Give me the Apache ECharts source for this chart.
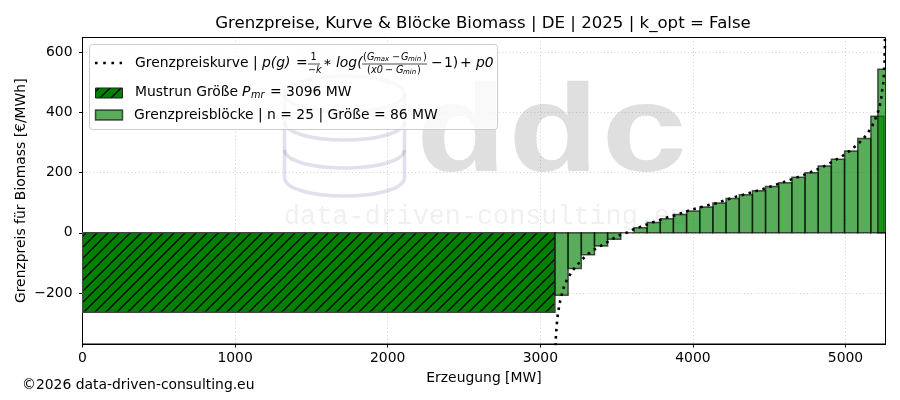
<!DOCTYPE html>
<html><head><meta charset="utf-8">
<style>html,body{margin:0;padding:0;background:#fff}#c{width:900px;height:400px}</style>
<script src="https://cdn.jsdelivr.net/npm/echarts@6/dist/echarts.min.js"></script>
</head><body><div id="c"></div>
<script>
const titleText = 'Grenzpreise, Kurve & Blöcke Biomass | DE | 2025 | k_opt = False';
const xName = 'Erzeugung [MW]';
const yName = 'Grenzpreis für Biomass [€/MWh]';
const xTicks = [0,1000,2000,3000,4000,5000];
const yTicks = [-200,0,200,400,600];
const mustrunSize = 3096;
const mustrunPrice = -264;
const blockWidth = 86.25;
const blockStarts = [3096,3182,3269,3355,3441,3527,3614,3700,3786,3872,3959,4045,4131,4217,4304,4390,4476,4562,4649,4735,4821,4907,4994,5080,5166,5212];
const blockValues = [-208,-119,-73,-44,-21,0,17,34,47,61,73,86,99,114,127,140,154,167,185,200,222,245,272,314,388,544];
const curveX = [3098,3101,3103,3107,3111,3118,3125,3136,3149,3164,3188,3212,3243,3273,3313,3350,3393,3433,3477,3520,3564,3608,3651,3700,3743,3787,3835,3881,3927,3973,4019,4065,4113,4159,4206,4252,4298,4344,4392,4436,4482,4528,4573,4619,4663,4709,4755,4799,4845,4886,4930,4971,5011,5050,5085,5120,5148,5175,5194,5212,5225,5234,5240,5247,5251,5253,5256,5256,5258,5258,5259];
const curveY = [-400,-362,-336,-312,-286,-262,-238,-214,-189,-167,-145,-125,-106,-89,-70,-57,-44,-33,-19,-8,0,11,19,28,36,43,52,58,66,74,81,87,94,99,108,115,123,128,136,142,149,157,165,173,181,189,199,207,218,228,241,253,266,282,297,315,334,356,377,401,424,448,473,497,522,546,571,595,619,645,670];

const F = '"DejaVu Sans"';
const T = 11;
const tile = document.createElement('canvas'); tile.width = T; tile.height = T;
(function(){const g = tile.getContext('2d'); g.fillStyle = '#008000'; g.fillRect(0,0,T,T);
 g.strokeStyle = '#000'; g.lineWidth = 1.25; g.beginPath();
 g.moveTo(-1,T+1); g.lineTo(T+1,-1); g.moveTo(-1,1); g.lineTo(1,-1); g.moveTo(T-1,T+1); g.lineTo(T+1,T-1); g.stroke();})();
const hatch = {image: tile, repeat: 'repeat'};

const txt = (text,x,y,size,extra) => ({type:'text',z:20,silent:true,style:Object.assign({text,x,y,fill:'#000',font:size+'px '+F,textVerticalAlign:'middle'},extra||{})});
const it = (text,x,y,size) => ({type:'text',z:20,silent:true,style:{text,x,y,fill:'#000',font:'italic '+size+'px '+F,textVerticalAlign:'middle'}});
const wm = 'rgba(40,40,130,0.14)';
const wmArc = y => ({type:'bezierCurve',z:1,silent:true,shape:{x1:284.5,y1:y,cpx1:287,cpy1:y+24,cpx2:402,cpy2:y+24,x2:404.5,y2:y},style:{fill:'none',stroke:wm,lineWidth:3.5}});
const wmSide = x => ({type:'line',z:1,silent:true,shape:{x1:x,y1:94,x2:x,y2:178},style:{stroke:wm,lineWidth:3.5}});
const graphics = [
  {type:'text',z:1,silent:true,x:415,y:170.5,scaleX:0.96,scaleY:0.78,style:{text:'ddc',x:0,y:-40,font:'bold 160px "Liberation Mono"',fill:'rgba(128,128,128,0.25)',textVerticalAlign:'middle'}},
  {type:'text',z:1,silent:true,style:{text:'data-driven-consulting.eu',x:284,y:217,font:'26.8px "Liberation Mono"',fill:'rgba(128,128,128,0.12)',textVerticalAlign:'middle'}},
  {type:'ellipse',z:1,silent:true,shape:{cx:344.5,cy:94,rx:60,ry:18},style:{fill:'none',stroke:wm,lineWidth:3.5}},
  wmSide(284.5), wmSide(404.5), wmArc(122), wmArc(150), wmArc(178),
  {type:'rect',z:19,silent:true,shape:{x:89.5,y:44.5,width:408,height:85,r:3},style:{fill:'rgba(255,255,255,0.8)',stroke:'#ccc',lineWidth:1}},
  {type:'line',z:20,silent:true,shape:{x1:95,y1:63,x2:122,y2:63},style:{stroke:'#000',lineWidth:2.6,lineDash:[2.6,5.6]}},
  {type:'rect',z:20,silent:true,shape:{x:95.5,y:88,width:27,height:10},style:{fill:hatch,stroke:'#222',lineWidth:1}},
  {type:'rect',z:20,silent:true,shape:{x:95.5,y:110,width:27,height:10},style:{fill:'rgba(0,128,0,0.65)',stroke:'rgba(0,0,0,0.65)',lineWidth:1.5}},
  txt('Grenzpreiskurve | ',135,63,13.9),
  it('p(g)',262,63,13.9), txt('=',296,63,13.9),
  txt('1',313.5,57,9.7,{textAlign:'center'}),
  {type:'line',z:20,silent:true,shape:{x1:308,y1:64,x2:320,y2:64},style:{stroke:'#000',lineWidth:0.7}},
  it('−k',308,70,9.7),
  txt('*',324,65,13.9), it('log(',336,63,13.9),
  txt('(',363,57,9.7), it('G',367,57,9.7), it('max',374,59,7), txt('−',392,57,9.7), it('G',401,57,9.7), it('min',408,59,7), txt(')',423,57,9.7),
  {type:'line',z:20,silent:true,shape:{x1:362,y1:64,x2:427,y2:64},style:{stroke:'#000',lineWidth:0.7}},
  txt('(',367,70,9.7), it('x0',371,70,9.7), txt('−',385,70,9.7), it('G',396,70,9.7), it('min',403,72,7), txt(')',417,70,9.7),
  txt('−',431,63,13.9), txt('1)',444,63,13.9), txt('+',460,63,13.9), it('p0',476,63,13.9),
  txt('Mustrun Größe ',135,92,13.9), it('P',242,92,13.9), it('mr',251,95,9.7), txt('= 3096 MW',270,92,13.9),
  txt('Grenzpreisblöcke | n = 25 | Größe = 86 MW',134,115,13.9),
  txt('©2026 data-driven-consulting.eu',22,385,13.9)
];

const tickLabel = v => String(v).replace('-','−');
const chart = echarts.init(document.getElementById('c'),null,{renderer:'canvas'});
chart.setOption({
  animation:false,
  backgroundColor:'#fff',
  title:{text:titleText,left:478,top:10,textAlign:'center',textStyle:{fontFamily:F,fontSize:16.6,fontWeight:'normal',color:'#000'}},
  grid:{left:82.5,right:14.5,top:37.5,height:306.5,show:true,borderColor:'#000',borderWidth:1,backgroundColor:'transparent'},
  xAxis:{type:'value',min:0,max:5262,interval:1000,name:xName,nameLocation:'middle',nameGap:27,
    nameTextStyle:{fontFamily:F,fontSize:13.9,color:'#000'},
    axisLine:{show:true,onZero:false,lineStyle:{color:'#000',width:1}},
    axisTick:{show:true,length:3.5,customValues:xTicks,lineStyle:{color:'#000'}},
    axisLabel:{customValues:xTicks,fontFamily:F,fontSize:13.9,color:'#000',margin:7,formatter:tickLabel},
    splitLine:{show:true,lineStyle:{type:[1,2.5],color:'rgba(160,160,160,0.6)',width:0.8}}},
  yAxis:{type:'value',min:-370,max:650,interval:200,name:yName,nameLocation:'middle',nameGap:54,nameMoveOverlap:false,nameRotate:90,
    nameTextStyle:{fontFamily:F,fontSize:13.9,color:'#000'},
    axisLine:{show:true,onZero:false,lineStyle:{color:'#000',width:1}},
    axisTick:{show:true,length:3.5,customValues:yTicks,lineStyle:{color:'#000'}},
    axisLabel:{customValues:yTicks,fontFamily:F,fontSize:13.9,color:'#000',margin:10,formatter:tickLabel},
    splitLine:{show:true,lineStyle:{type:[1,2.5],color:'rgba(160,160,160,0.6)',width:0.8}}},
  graphic:{elements:graphics},
  series:[
    {type:'custom',name:'Mustrun',z:3,clip:true,silent:true,coordinateSystem:'cartesian2d',encode:{x:[0,1],y:2},
     data:[[0,mustrunSize,mustrunPrice]],
     renderItem:(p,api)=>{const a=api.coord([api.value(0),0]),b=api.coord([api.value(1),api.value(2)]);
       return {type:'rect',shape:{x:a[0],y:a[1],width:b[0]-a[0],height:b[1]-a[1]},style:{fill:hatch,stroke:'#444',lineWidth:1.5}};}},
    {type:'custom',name:'Blöcke',z:4,clip:true,silent:true,coordinateSystem:'cartesian2d',encode:{x:[0,1],y:2},
     data:blockStarts.map((s,i)=>[s,s+blockWidth,blockValues[i]]),
     renderItem:(p,api)=>{const a=api.coord([api.value(0),0]),b=api.coord([api.value(1),api.value(2)]);
       return {type:'rect',shape:{x:a[0],y:a[1],width:b[0]-a[0],height:b[1]-a[1]},style:{fill:'rgba(0,128,0,0.65)',stroke:'rgba(0,0,0,0.65)',lineWidth:1.5}};}},
    {type:'line',name:'Kurve',z:5,clip:true,silent:true,showSymbol:false,smooth:false,
     data:curveX.map((x,i)=>[x,curveY[i]]),
     lineStyle:{color:'#000',width:2.6,type:[2.6,4.6]}}
  ]
});
</script></body></html>
